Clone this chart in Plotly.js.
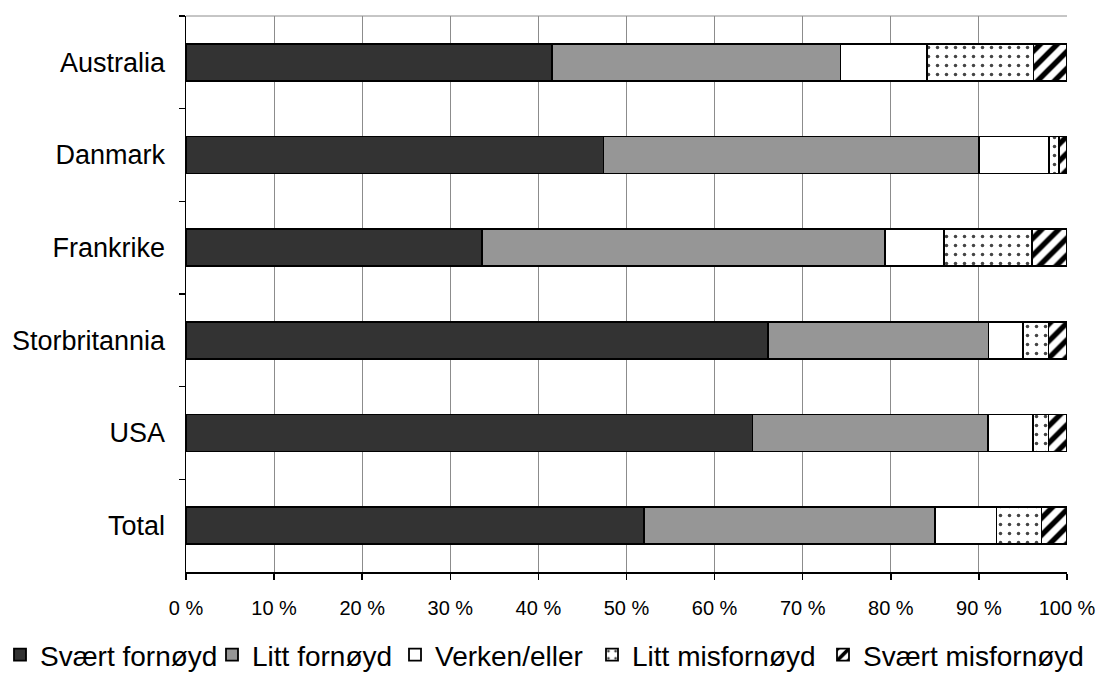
<!DOCTYPE html>
<html>
<head>
<meta charset="utf-8">
<script src="https://cdn.plot.ly/plotly-3.0.1.min.js"></script>
<style>html,body{margin:0;padding:0;background:#fff;}#chart{width:1113px;height:684px;}</style>
</head>
<body>
<div id="chart"></div>
<script>
const categories = ["Australia", "Danmark", "Frankrike", "Storbritannia", "USA", "Total"];
const seriesNames = ["Svært fornøyd", "Litt fornøyd", "Verken/eller", "Litt misfornøyd", "Svært misfornøyd"];
const svaertFornoyd = [41.5, 47.4, 33.6, 66.1, 64.3, 52.0];
const littFornoyd = [32.8, 42.6, 45.7, 25.0, 26.7, 33.0];
const verkenEller = [9.8, 8.0, 6.7, 3.9, 5.1, 7.0];
const littMisfornoyd = [12.1, 1.1, 10.0, 2.9, 1.8, 5.1];
const svaertMisfornoyd = [3.8, 0.9, 4.0, 2.1, 2.1, 2.9];
const xTickVals = [0, 10, 20, 30, 40, 50, 60, 70, 80, 90, 100];

const lineStyle = {color: "#000", width: 1.8};
const legendIds = ["legend", "legend2", "legend3", "legend4", "legend5"];
function mk(i, vals, marker) {
  return {type: "bar", orientation: "h", name: seriesNames[i], x: vals, y: categories,
          legend: legendIds[i],
          marker: Object.assign({line: lineStyle}, marker), hoverinfo: "x+y+name"};
}
const data = [
  mk(0, svaertFornoyd, {color: "#333333"}),
  mk(1, littFornoyd, {color: "#969696"}),
  mk(2, verkenEller, {color: "#ffffff"}),
  mk(3, littMisfornoyd, {color: "#ffffff", pattern: {shape: ".", fgcolor: "#444", bgcolor: "#fff", size: 9, solidity: 0.12}}),
  mk(4, svaertMisfornoyd, {color: "#ffffff", pattern: {shape: "/", fgcolor: "#000", bgcolor: "#fff", size: 12, solidity: 0.45}})
];

// left edge (px) of each legend entry
const legendLeftPx = [-8, 212, 395, 592, 823];
function legendCfg(px) {
  return {orientation: "h", xref: "container", yref: "container", x: px / 1113, xanchor: "left",
          y: 1 - 655 / 684, yanchor: "middle", font: {size: 28}, itemwidth: 30,
          bgcolor: "rgba(0,0,0,0)", borderwidth: 0};
}

const layout = {
  width: 1113, height: 684,
  margin: {l: 186, r: 46, t: 16, b: 112},
  paper_bgcolor: "#fff", plot_bgcolor: "#fff",
  barmode: "stack", bargap: 0.6,
  font: {family: "Liberation Sans, Arial, sans-serif", color: "#000"},
  xaxis: {
    range: [0, 100], tickvals: xTickVals, ticktext: xTickVals.map(v => v + " %"),
    showgrid: true, gridcolor: "#8c8c8c", gridwidth: 1,
    showline: true, linecolor: "#000", linewidth: 1.5,
    ticks: "outside", ticklen: 6, tickcolor: "#000", tickwidth: 1.5,
    tickfont: {size: 20}, ticklabelstandoff: 11, zeroline: false, fixedrange: true
  },
  yaxis: {
    categoryorder: "array", categoryarray: categories, autorange: "reversed",
    showgrid: false, showline: true, linecolor: "#000", linewidth: 1.5,
    ticks: "outside", tickson: "boundaries", ticklen: 6, tickcolor: "#000", tickwidth: 1.5,
    tickfont: {size: 27}, ticklabelstandoff: 14, zeroline: false, fixedrange: true
  },
  shapes: [
    {type: "line", xref: "paper", yref: "paper", x0: 0, x1: 1, y0: 1, y1: 1, line: {color: "#8c8c8c", width: 1}, layer: "below"}
  ],
  showlegend: true,
  legend: legendCfg(legendLeftPx[0]),
  legend2: legendCfg(legendLeftPx[1]),
  legend3: legendCfg(legendLeftPx[2]),
  legend4: legendCfg(legendLeftPx[3]),
  legend5: legendCfg(legendLeftPx[4])
};

Plotly.newPlot("chart", data, layout, {displayModeBar: false, staticPlot: true});
</script>
</body>
</html>
